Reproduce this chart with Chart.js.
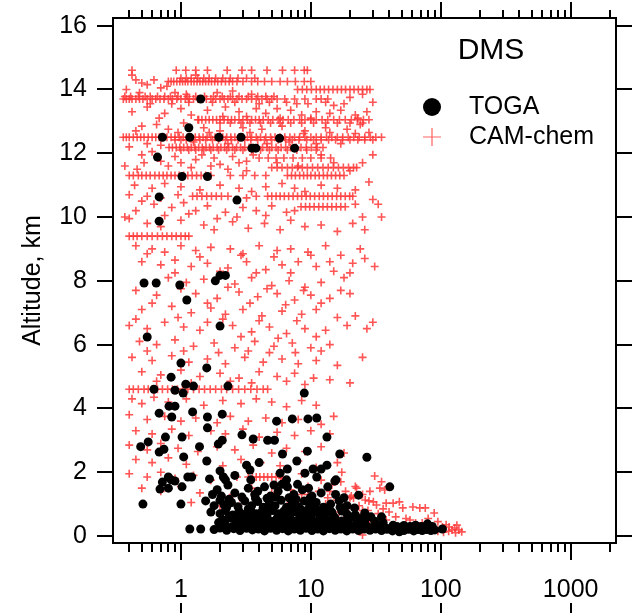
<!DOCTYPE html>
<html><head><meta charset="utf-8">
<script src="https://cdn.jsdelivr.net/npm/chart.js@4/dist/chart.umd.min.js"></script>
<style>html,body{margin:0;padding:0;background:#fff}#wrap{width:644px;height:613px;position:relative}</style>
</head><body><div id="wrap"><canvas id="c" width="644" height="613"></canvas></div>
<script>
// ---------------- DATA ----------------
const seriesNames = ['TOGA', 'CAM-chem'];
const chartTitle = 'DMS';
const yAxisTitle = 'Altitude, km';
const yTickValues = [0, 2, 4, 6, 8, 10, 12, 14, 16];
const xMajorTicks = [1, 10, 100, 1000];
const xTickLabels = ['1', '10', '100', '1000'];
const xMinorTicks = [0.4,0.5,0.6,0.7,0.8,0.9,2,3,4,5,6,7,8,9,20,30,40,50,60,70,80,90,200,300,400,500,600,700,800,900,2000];

// TOGA observations [DMS, altitude km]
const togaUpper = [
[1.42,13.7],[1.15,12.8],[1.17,12.5],[0.72,12.5],[1.96,12.5],[2.9,12.5],[5.74,12.47],[3.52,12.16],[3.77,12.16],[7.5,12.16],
[0.66,11.88],[1.02,11.27],[1.6,11.27],[0.68,10.63],[2.7,10.53],[0.68,9.87],
[0.52,7.93],[0.645,7.93],[0.98,7.87],[1.84,8.0],[2.0,8.17],[2.2,8.17],[1.11,7.4],
[2.0,6.58],[0.55,6.24],[1.0,5.42],[1.58,5.27],[0.84,4.98],[0.62,4.6],[0.9,4.57],[1.04,4.48],[1.09,4.76],[1.25,4.7],[2.3,4.7],[8.9,4.48],
[0.68,3.85],[0.81,4.07],[0.9,4.07],[0.85,3.73],[1.23,3.89],[1.6,3.73],[2.08,3.82],[1.6,3.39],[2.95,3.17],[3.6,3.04],[5.45,3.6],
[4.65,3.0],[5.25,3.0],[7.2,3.67],[9.5,3.67],[11.1,3.7],[13.3,3.1]
];
const togaMid = [
[0.49,2.8],[0.56,2.95],[0.76,3.1],[1.02,3.1],[1.39,2.8],[1.05,2.48],[0.68,2.63],[0.74,2.72],[1.58,2.35],[1.94,2.88],[2.08,3.0],
[6.05,2.57],[9.4,2.66],[16.7,2.57],[27,2.47],
[0.8,1.85],[0.72,1.69],[0.84,1.76],[0.9,1.72],[0.69,1.47],[0.8,1.5],[1.02,1.54],[1.13,1.85],[1.21,1.85],[0.51,1.0],[1.0,1.0],[1.66,1.79],
[2.0,2.04],[2.12,1.85],[2.2,1.76],[2.6,1.9],[3.2,2.22],[3.4,2.07],[3.45,1.76],[5.8,1.97],[6.5,1.76],[6.6,2.1],[9.0,1.97],[10.4,2.1],
[11.1,1.85],[13.3,2.22],[15.3,1.72],[4.0,2.3],[7.8,2.35],[12,2.1],[15.6,1.76],[40.5,1.54]
];
const togaSurface = [
[1.75,1.3],[1.9,1.45],[2.05,1.25],[2.3,1.6],[2.6,1.35],[2.95,1.22],[3.3,1.5],[3.7,1.3],[4.4,1.54],[4.9,1.25],[5.6,1.4],[6.6,1.54],
[7.4,1.3],[8.6,1.45],[10.2,1.25],[12,1.35],[13.5,1.54],[15.5,1.3],[18,1.2],[23.3,1.28],[6.0,1.62],
[1.55,1.1],[1.8,0.95],[2.0,1.12],[2.25,0.9],[2.45,1.05],[2.75,0.92],[3.1,1.1],[3.5,0.95],[3.9,1.08],[4.3,0.9],[4.8,1.05],[5.3,0.95],
[5.9,1.12],[6.5,0.9],[7.2,1.02],[8.0,0.92],[8.9,1.1],[9.8,0.95],[11,1.05],[12.5,0.9],[14.2,1.0],[16.5,1.1],[19,0.95],[21.7,0.88],
[1.7,0.75],[2.0,0.7],[2.2,0.8],[2.5,0.66],[2.8,0.78],[3.1,0.68],[3.45,0.8],[3.8,0.7],[4.2,0.76],[4.6,0.66],[5.1,0.8],[5.6,0.7],
[6.2,0.78],[6.9,0.65],[7.6,0.75],[8.4,0.68],[9.3,0.8],[10.3,0.7],[11.5,0.78],[12.8,0.66],[14.5,0.75],[17.3,0.78],[19,0.68],[26,0.72],[22,0.66],[35,0.6],
[2.1,0.5],[2.4,0.56],[2.7,0.46],[3.0,0.55],[3.35,0.48],[3.7,0.57],[4.05,0.47],[4.5,0.55],[4.95,0.46],[5.5,0.56],[6.1,0.48],[6.7,0.55],
[7.4,0.46],[8.2,0.57],[9.1,0.48],[10,0.55],[11.2,0.46],[12.4,0.56],[13.8,0.48],[15.4,0.55],[17.3,0.47],[19.6,0.53],[22.5,0.45],[26,0.5],[31,0.46],[36,0.42],
[2.2,0.35],[2.5,0.3],[2.85,0.38],[3.2,0.32],[3.55,0.39],[3.95,0.31],[4.4,0.37],[4.85,0.3],[5.35,0.38],[5.9,0.32],[6.5,0.39],[7.1,0.31],
[7.8,0.37],[8.6,0.3],[9.5,0.38],[10.5,0.32],[11.6,0.37],[12.9,0.3],[14.3,0.38],[16,0.32],[18,0.37],[20.5,0.3],[23.5,0.36],[27,0.31],
[31,0.35],[35,0.3],[43,0.34],[46,0.3],[52,0.33],[58,0.3],[64,0.34],[71,0.3],[79,0.38],[86,0.3],
[1.17,0.22],[1.42,0.22],[1.8,0.2],[2.0,0.25],[2.25,0.18],[2.55,0.23],[2.85,0.17],[3.2,0.24],[3.55,0.19],[3.95,0.22],[4.4,0.16],[4.9,0.24],
[5.45,0.18],[6.05,0.23],[6.7,0.16],[7.45,0.22],[8.3,0.18],[9.2,0.24],[10.2,0.17],[11.3,0.22],[12.5,0.16],[13.9,0.23],[15.4,0.18],[17,0.22],
[18.9,0.16],[21,0.22],[23.3,0.17],[25.8,0.22],[28.5,0.18],[31.5,0.22],[35,0.17],[38.5,0.21],[42.5,0.16],[48,0.13],[52,0.17],[57,0.21],
[62,0.16],[67,0.2],[72,0.17],[78,0.2],[84,0.17],[90,0.19],[103,0.22],
[2.35,1.15],[3.3,0.85],[4.6,1.18],[6.8,1.2],[8.3,0.85],[10.8,0.88],[3.9,1.4],[5.2,1.6],[7.9,1.62],[9.6,1.5],
[2.15,0.98],[2.65,0.58],[3.25,0.62],[3.75,1.18],[4.15,0.6],[4.7,0.88],[5.4,1.22],[6.3,0.6],[7.0,0.86],[7.7,1.15],[8.9,0.62],
[9.9,1.2],[11.8,0.6],[13.2,0.85],[15,0.62],[16.8,0.9],[20,0.6],[24.5,0.55],[29,0.6],[1.95,0.42],[2.35,0.62],[3.05,0.42],
[3.85,0.44],[4.6,0.42],[5.7,0.42],[6.9,0.43],[8.0,0.42],[9.8,0.43],[12,0.42],[14.8,0.44],[18.5,0.42],[38,0.25],[44,0.25],[55,0.26]
];

// CAM-chem model: flight-level rows (x values) at fixed altitudes
const row146X = [0.42,0.92,1.09,1.3,1.6,2.27,2.95,3.5,4.6,6.05,7.5,8.9,9.4];
const row143X = [0.8,0.84,0.88,0.93,0.98,1.03,1.08,1.13,1.2,1.26,1.33,1.4,1.47,1.55,1.63,1.72,1.82,1.92,2.05,2.2,2.35,2.5,2.7,3.0,3.5,3.9,4.4,5.0,5.8,6.6,7.6,8.9,10];
const row1435X = [1.0,1.1,1.2,1.35,1.5,1.65,1.85,2.1,2.4,2.75,3.2,3.7];
const row140X = [7.9,8.6,9.3,10.1,11,11.8,12.7,13.7,14.8,16,17.2,18.5,20,21.5,23.2,25,27,28.5];
const row137X = [0.36,0.38,0.4,0.42,0.45,0.48,0.51,0.55,0.6,0.64,0.69,0.74,0.8,0.86,0.93,1.0,1.08,1.16,1.25,1.35,1.45,1.57,1.7,1.85,2.0,2.15,2.3,2.5,2.7,2.95,3.2,3.5,3.8,4.2,4.6,5.0,5.5,6.3,7.5,9,11,13.5];
const row1378X = [0.37,0.41,0.47,0.53,0.58,0.66,0.75,0.83,0.95,1.12,1.3,1.52,1.78,2.08,2.4,2.8,3.3,3.9,4.5,5.2];
const row1305X = [1.37,1.45,1.55,1.65,1.76,1.88,2.0,2.15,2.3,2.45,2.6,2.8,3.0,3.25,3.5,3.75,4.0,4.3,4.7,5.1,5.6,6.1,6.7,7.4,8.2,9.0,10,11,12.2,13.5,15,16.6,18.4,20.5,22.8,25.4,28];
const row1297X = [2.0,2.4,2.9,3.4,4.1,4.9,5.8,7,8.5,10.5,13,16,20,25];
const row125X = [0.36,0.38,0.4,0.43,0.46,0.49,0.52,0.56,0.6,0.64,0.68,0.73,0.78,0.84,0.9,0.97,1.04,1.12,1.2,1.29,1.38,1.48,1.59,1.7,1.83,1.96,2.1,2.25,2.42,2.6,2.8,3.0,3.25,3.5,3.8,4.1,4.5,4.9,5.3,5.8,6.3,6.9,7.5,8.2,9,10,11,12,13.2,14.5,16,17.6,19.4,21.4,23.6,26,28.7,31.6,35];
const row1242X = [0.9,1.0,1.1,1.25,1.4,1.55,1.75,1.95,2.2,2.45,2.75,3.1,3.45,3.9,4.4,5.0,5.6,6.4,7.2,8.1,9.3,10.5,12,13.7,15.5,17.5,20,23,26,30];
const row122X = [0.81,0.86,0.92,0.98,1.05,1.12,1.2,1.28,1.37,1.46,1.56,1.66,1.77,1.9,2.03,2.17,2.33,2.5,2.68,2.88,3.1,3.35,3.6,3.9,4.25,4.6,5.0,5.4,5.9,6.4,7.0,7.7,8.4,9.2,10.1,11.2,12.4];
const row1212X = [1.0,1.15,1.3,1.5,1.7,1.95,2.25,2.6,3.0,3.5,4.1,4.8,5.6,6.6,7.8,9.3,11];
const row118X = [4.7,5.4,6.2,7.3,8.6,10,12,14.2];
const row1155X = [5.0,5.5,6.0,6.6,7.2,7.9,8.6,9.4,10.3,11.3,12.4,13.6,14.9,16.3,17.8,19.5,21.3,22.5];
const row113X = [0.4,0.43,0.47,0.5,0.54,0.58,0.63,0.68,0.73,0.78,0.84,0.9,0.97,1.05,1.13,1.22,1.32,1.43,1.55,1.7,2.4,3.0,3.7,4.5,6.6,7.1,7.6,8.2,8.8,9.4,10,10.8,11.6,12.5,13.4,14.4,15.5,16.7,18];
const row1065X = [1.23,1.33,1.45,1.58,1.72,1.87,2.05,2.3,4.65,5.0,5.4,5.8,6.25,6.75,7.3,7.9,8.5,9.2,9.9,10.7,11.6,12.5,13.5,14.6,15.8,17,18.4,19.9,21];
const row103X = [8.4,9.1,9.8,10.6,11.5,12.4,13.4,14.5,15.7,17,18.4];
const row94X = [0.4,0.43,0.46,0.5,0.55,0.6,0.66,0.72,0.78,0.85,0.92,1.0,1.08,1.15];
const row46X = [0.4,0.43,0.47,0.52,0.56,0.6,0.66,0.72,0.79,0.86,0.94,1.03,1.13,1.25,1.38,1.52,1.68,1.85,2.05,2.25,2.5,2.78,3.1,3.45,3.85,4.3,4.65];
const row185X = [3.3,3.55,3.8,4.05,4.35,4.65,5.0,5.4,5.9];
const camRows = [[14.6,row146X],[14.25,row143X],[14.35,row1435X],[14.0,row140X],[13.7,row137X],[13.78,row1378X],[13.05,row1305X],[12.95,row1297X],
  [12.5,row125X],[12.42,row1242X],[12.18,row122X],[12.1,row1212X],[11.85,row118X],[11.55,row1155X],[11.3,row113X],[10.65,row1065X],
  [10.32,row103X],[9.4,row94X],[4.6,row46X],[1.85,row185X]];

// CAM-chem scattered points [DMS, altitude]
const camScatterHigh = [
[0.42,14.45],[0.45,14.3],[0.5,14.2],[0.55,14.15],[0.62,14.3],[0.7,14.05],[0.78,14.1],[1.3,14.45],[0.9,13.9],[1.1,13.85],[1.9,13.9],
[2.5,13.95],[3.5,13.85],[6.5,13.6],[9.5,13.55],[12,13.7],[15,13.5],[20,13.75],[25,13.85],[0.42,13.3],[0.55,13.45],[0.75,13.25],
[1.0,13.4],[1.2,13.2],[1.6,13.35],[2.2,13.45],[2.8,13.3],[3.8,13.4],[4.5,13.25],[5.5,13.4],[7,13.35],[8.5,13.2],[11,13.3],[14,13.25],
[17,13.35],[22,13.2],[27,13.3],[0.5,12.85],[0.65,12.9],[0.8,12.75],[1.05,12.95],[1.5,12.8],[2.0,12.7],[3.0,12.8],[4.2,12.75],[6,12.85],
[9,12.7],[13,12.8],[19,12.75],[24,12.9],[28,12.65],[0.4,12.2],[0.5,11.95],[0.6,12.05],[0.9,11.9],[1.3,11.8],[1.8,11.85],[2.5,11.9],
[3.2,11.75],[4,11.85],[25,11.7],[30,11.95],[0.37,11.6],[0.46,11.5],[0.8,11.6],[1.2,11.55],[1.7,11.6],[2.3,11.5],[3.2,11.45],
[0.44,11.0],[0.6,10.9],[0.75,11.05],[1.0,10.95],[1.4,10.85],[2.0,11.0],[2.8,10.9],[3.5,10.8],[4.5,10.95],[6,11.05],[7.5,10.9],[9,10.8],
[12,11.0],[16,10.9],[22,10.85],[28,11.1],[0.5,10.5],[0.62,10.4],[0.85,10.3],[1.05,10.45],[1.3,10.2],[1.6,10.35],[2.2,10.15],[3.0,10.3],
[3.8,10.2],[5.0,10.35],[6.5,10.15],[22,10.4],[30,10.55],[0.4,9.95],[0.55,9.8],[0.7,9.7],[1.0,9.9],[1.5,9.75],[1.8,9.6],[2.5,9.85],
[3.3,9.65],[4.4,9.8],[5.8,9.6],[7,9.9],[9,9.7],[12,9.75],[16,9.55],[21,9.8],[26,9.6],[35,10.0]
];
const camScatterHigh2 = [
[0.38,14.0],[0.48,13.9],[0.58,13.55],[0.68,13.1],[0.85,13.55],[1.15,13.6],[1.35,13.05],[1.75,13.6],[2.1,13.15],[2.6,13.6],[3.2,13.15],
[4.0,13.55],[4.8,13.6],[5.8,13.1],[7.8,13.55],[10,13.1],[13,13.6],[18,13.55],[23,13.1],[30,13.6],[0.45,12.7],[0.55,12.3],[0.7,12.25],
[0.95,12.65],[1.25,12.35],[1.65,12.65],[2.3,12.3],[3.4,12.65],[4.6,12.3],[6.8,12.35],[8.8,12.62],[11,12.3],[14,12.65],[17,12.3],
[22,12.62],[0.52,11.7],[0.7,11.75],[1.0,11.7],[1.45,11.95],[2.0,11.65],[2.8,11.7],[3.6,11.95],[5.5,11.7],[8,11.6],[12,11.95],[15,11.7],
[20,11.45],[0.4,10.7],[0.55,10.65],[0.7,10.6],[0.95,10.7],[3.2,10.6],[3.8,10.65],[0.45,10.2],[0.75,10.05],[1.15,10.1],[1.9,9.95],
[2.7,10.0],[4.5,10.05],[7.5,10.2],[25,10.0],[33,10.4],[0.37,10.0]
];
const camScatterMid = [
[0.45,9.1],[0.6,9.0],[0.75,8.9],[1.0,9.1],[1.3,8.95],[1.7,9.05],[2.4,9.0],[3.0,8.85],[4.0,9.1],[5.5,8.95],[7,9.0],[9.5,8.9],[13,9.1],
[17,8.8],[24,9.0],[0.5,8.6],[0.7,8.5],[0.9,8.65],[1.2,8.45],[1.6,8.55],[2.3,8.4],[3.2,8.6],[4.5,8.35],[6,8.5],[8,8.6],[11,8.45],[15,8.3],
[21,8.55],[31,8.45],[0.8,8.1],[1.1,7.95],[1.5,8.05],[2.6,7.9],[3.5,8.1],[5,7.85],[6.8,8.0],[9,7.8],[12,7.95],[18,8.1],[0.45,7.7],
[0.65,7.55],[1.3,7.6],[1.9,7.45],[2.8,7.65],[3.9,7.5],[5.5,7.6],[7.5,7.4],[10,7.55],[14,7.45],[20,7.6],[0.5,7.1],[0.85,7.2],[1.2,7.0],
[1.7,7.15],[2.2,6.95],[3.0,7.1],[4.2,6.9],[6,7.05],[8.5,6.95],[11,7.1],[16,6.85],[0.4,6.6],[0.55,6.5],[0.75,6.7],[1.05,6.55],[1.4,6.45],
[2.5,6.6],[3.5,6.4],[4.8,6.55],[6.5,6.35],[9,6.5],[13,6.45],[19,6.6],[27,6.5],[30,6.7],[0.48,6.1],[0.65,6.0],[0.9,6.15],[1.25,5.95],
[1.8,6.05],[2.6,5.9],[3.7,6.1],[5.2,5.95],[7.2,6.05],[10,5.9],[14,6.0],[0.42,5.6],[0.6,5.5],[0.85,5.65],[1.15,5.45],[1.6,5.55],[2.2,5.4],
[3.1,5.6],[4.3,5.45],[6,5.55],[8,5.4],[11,5.5],[16,5.35],[0.5,5.15],[0.7,5.05],[1.0,5.2],[1.4,5.0],[2.0,5.1],[2.8,4.95],[4.0,5.15],
[5.5,5.0],[7.5,5.1],[10.5,4.95],[20,4.8],[25,5.6]
];
const camScatterMid2 = [
[0.55,8.85],[0.9,8.25],[1.4,8.75],[2.0,8.3],[2.9,8.8],[3.8,8.25],[5.2,8.75],[7,8.25],[10,8.8],[14,8.6],[20,8.25],[26,8.7],[0.6,7.3],
[1.0,7.75],[1.6,7.3],[2.3,7.8],[3.4,7.3],[4.6,7.75],[6.4,7.25],[8.8,7.7],[12,7.3],[17,7.7],[0.45,6.8],[0.95,6.85],[1.6,6.7],[2.1,6.8],
[2.9,6.25],[4.0,6.75],[5.6,6.2],[7.8,6.75],[11,6.25],[22,6.9],[0.55,5.8],[1.05,5.8],[1.95,5.75],[3.3,5.8],[4.8,5.75],[7.6,5.75],
[12,5.8],[0.65,4.85],[1.2,4.8],[2.4,4.85],[3.5,4.8],[6.5,4.85],[9,4.75],[14,4.9]
];
const camScatterLow = [
[0.42,4.3],[0.5,4.15],[0.62,4.35],[0.8,4.2],[1.1,4.3],[1.5,4.1],[2.1,4.25],[2.9,4.15],[3.8,4.3],[5,4.2],[6.5,4.05],[8.5,4.25],[11,4.1],
[0.4,3.8],[0.55,3.65],[0.75,3.75],[1.0,3.6],[1.3,3.7],[1.9,3.55],[2.4,3.75],[3.3,3.6],[4.5,3.7],[6,3.55],[8,3.65],[12,3.5],[15,3.75],
[0.45,3.3],[0.6,3.2],[0.85,3.35],[1.15,3.15],[1.7,3.3],[2.2,3.2],[3.0,3.35],[4.0,3.1],[5.5,3.25],[7.5,3.15],[10,3.3],[14,3.2],
[0.4,2.85],[0.55,2.7],[0.7,2.9],[0.95,2.75],[1.35,2.65],[1.9,2.8],[2.6,2.7],[3.6,2.85],[5,2.6],[6.5,2.75],[9,2.65],[12,2.8],[18,2.6],
[0.45,2.4],[0.6,2.3],[0.8,2.45],[1.1,2.25],[1.6,2.35],[2.1,2.2],[2.9,2.4],[4.1,2.3],[5.8,2.2],[8,2.35],[11,2.15],[16,2.3],
[0.4,1.95],[0.55,1.85],[0.7,2.0],[0.9,1.8],[1.25,1.9],[1.7,1.75],[2.7,1.85],[6,1.8],[8.5,1.95],[12,1.75],[17,1.7],[22,1.55],
[0.5,1.5],[0.7,1.4],[1.0,1.55],[1.4,1.35],[1.9,1.45],[2.5,1.3],[3.5,1.5],[5,1.35],[7,1.45],[9.5,1.3],[14,1.4],[20,1.2],[28,1.1],
[1.2,1.05],[2.0,0.95],[3.0,1.1],[4.5,0.9],[7,1.05],[10,0.85],[13,1.0],[18,0.9],[25,0.8]
];
const camSurface = [
[8.5,1.3],[9.5,1.55],[10.5,1.1],[11.5,1.4],[12.5,0.9],[13.5,1.2],[14.5,1.6],[15.8,1.13],[16.5,0.75],[17.3,2.0],[17.9,1.19],[18.5,1.4],
[19.5,0.9],[20.5,1.25],[21.3,1.19],[22.5,1.5],[23.5,0.95],[25,1.3],[26.2,1.13],[27.5,0.8],[28.5,1.4],[30.3,1.07],[31,1.88],[32,0.97],
[33,0.7],[34,1.5],[35,1.7],[36,0.85],[37,1.44],[38,1.03],[40,0.75],[43,1.03],[45,0.6],[48,1.07],[51,0.88],[54,0.55],[58,0.5],[61,0.91],
[64,0.41],[69,0.88],[72,0.41],[76,0.88],[80,0.55],[89,0.72],[95,0.45],[103,0.28],[110,0.35],[116,0.28],[122,0.19],[128,0.25],[133,0.34],
[138,0.19],[145,0.13],[25,0.03],[12,0.6],[14,0.45],[16,0.3],[18,0.55],[20,0.4],[24,0.6],[28,0.45],[32,0.35],[38,0.5],[42,0.3],[50,0.3],
[56,0.2],[66,0.25],[85,0.2],[95,0.15],[105,0.12],[115,0.15],[130,0.1]
];

// ---------------- BUILD ----------------
const togaData = [...togaUpper, ...togaMid, ...togaSurface].map(p => ({x: p[0], y: p[1]}));
const camData = [];
camRows.forEach(r => r[1].forEach(x => camData.push({x: x, y: r[0]})));
[...camScatterHigh, ...camScatterHigh2, ...camScatterMid, ...camScatterMid2, ...camScatterLow, ...camSurface]
  .forEach(p => camData.push({x: p[0], y: p[1]}));

const FONT = '"Liberation Sans", Arial, Helvetica, sans-serif';
const RED = 'rgba(255,55,55,0.85)';

const framePlugin = {
  id: 'frame',
  afterDraw(chart) {
    const {ctx, chartArea: a, scales: {x, y}} = chart;
    ctx.save();
    ctx.strokeStyle = '#000';
    ctx.lineWidth = 2;
    ctx.strokeRect(a.left, a.top, a.right - a.left, a.bottom - a.top);
    ctx.beginPath();
    yTickValues.forEach(v => {
      const py = Math.round(y.getPixelForValue(v));
      ctx.moveTo(a.left - 16, py); ctx.lineTo(a.left, py);
      ctx.moveTo(a.right, py); ctx.lineTo(a.right + 16, py);
    });
    xMajorTicks.forEach(v => {
      const px = Math.round(x.getPixelForValue(v));
      ctx.moveTo(px, a.bottom); ctx.lineTo(px, a.bottom + 17);
      ctx.moveTo(px, a.top); ctx.lineTo(px, a.top - 16);
      ctx.moveTo(px, chart.height - 10); ctx.lineTo(px, chart.height);
    });
    xMinorTicks.forEach(v => {
      const px = Math.round(x.getPixelForValue(v));
      ctx.moveTo(px, a.bottom); ctx.lineTo(px, a.bottom + 9);
      ctx.moveTo(px, a.top); ctx.lineTo(px, a.top - 8);
    });
    ctx.stroke();

    // legend
    ctx.fillStyle = '#000';
    ctx.textBaseline = 'middle';
    ctx.textAlign = 'center';
    ctx.font = '30px ' + FONT;
    ctx.fillText(chartTitle, 491, 51);
    ctx.textAlign = 'left';
    ctx.font = '25px ' + FONT;
    ctx.beginPath();
    ctx.arc(432, 107, 9, 0, Math.PI * 2);
    ctx.fill();
    ctx.fillText(seriesNames[0], 469, 107);
    ctx.strokeStyle = 'rgba(255,80,80,0.9)';
    ctx.lineWidth = 1.2;
    ctx.beginPath();
    ctx.moveTo(423, 137); ctx.lineTo(441, 137);
    ctx.moveTo(432, 128); ctx.lineTo(432, 146);
    ctx.stroke();
    ctx.fillText(seriesNames[1], 469, 137);
    ctx.restore();
  }
};

new Chart(document.getElementById('c'), {
  type: 'scatter',
  data: {
    datasets: [
      {label: seriesNames[0], data: togaData, pointStyle: 'circle', pointRadius: 4.5, backgroundColor: '#000', borderWidth: 0},
      {label: seriesNames[1], data: camData, pointStyle: 'cross', pointRadius: 4, borderColor: RED, backgroundColor: RED, borderWidth: 1.6}
    ]
  },
  options: {
    responsive: false,
    animation: false,
    devicePixelRatio: 1,
    layout: {padding: {top: 18, right: 28, left: 0, bottom: 0}},
    plugins: {legend: {display: false}, tooltip: {enabled: false}},
    scales: {
      x: {
        type: 'logarithmic', min: 0.338, max: 2233,
        grid: {display: false, drawTicks: false}, border: {display: false},
        afterBuildTicks: s => { s.ticks = xMajorTicks.map(v => ({value: v})); },
        afterFit: s => { s.height = 70; s.paddingLeft = 0; s.paddingRight = 0; },
        ticks: {
          autoSkip: false, maxRotation: 0, padding: 32, color: '#000',
          font: {family: FONT, size: 25},
          callback: v => { const i = xMajorTicks.indexOf(v); return i >= 0 ? xTickLabels[i] : ''; }
        }
      },
      y: {
        type: 'linear', min: -0.22, max: 16.24,
        grid: {display: false, drawTicks: false}, border: {display: false},
        afterBuildTicks: s => { s.ticks = yTickValues.map(v => ({value: v})); },
        afterFit: s => { s.width = 113; s.paddingTop = 0; s.paddingBottom = 0; },
        ticks: {padding: 26, color: '#000', font: {family: FONT, size: 25}, callback: v => String(v)},
        title: {display: true, text: yAxisTitle, color: '#000', font: {family: FONT, size: 25}, padding: {top: 18, bottom: 0}}
      }
    }
  },
  plugins: [framePlugin]
});
</script>
</body></html>
